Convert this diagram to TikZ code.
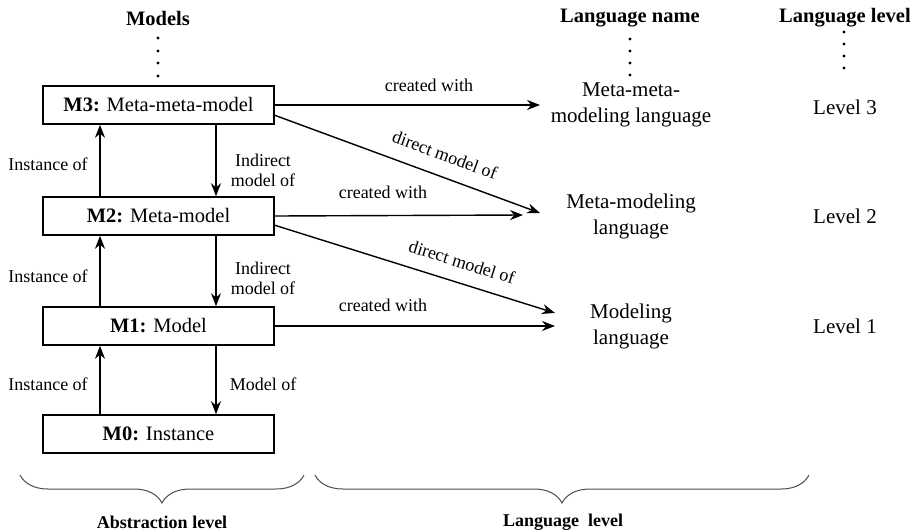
\documentclass[tikz,border=0pt]{standalone}
\usepackage{fontspec}
\setmainfont{LiberationSerif}[Extension=.ttf,UprightFont=*-Regular,BoldFont=*-Bold,ItalicFont=*-Italic,BoldItalicFont=*-BoldItalic]
\usetikzlibrary{arrows.meta,decorations.pathreplacing,calc}
\begin{document}
\begin{tikzpicture}[x=1pt,y=-1pt,
  box/.style={draw,line width=1.6pt,minimum width=231pt,minimum height=38pt,inner sep=0pt,font=\fontsize{20.5}{24}\selectfont},
  arr/.style={line width=1.4pt,-{Stealth[length=13pt,width=10pt]}},
  lbl/.style={font=\fontsize{18}{20}\selectfont,inner sep=2pt},
  lang/.style={font=\fontsize{21}{26}\selectfont,align=center,inner sep=0pt},
  head/.style={font=\bfseries\fontsize{20.5}{24}\selectfont,inner sep=0pt},
  foot/.style={font=\bfseries\fontsize{18}{20}\selectfont,inner sep=0pt},
  brc/.style={draw=black!70,line width=1pt,decorate,decoration={brace,mirror,amplitude=28pt}},
  dot/.style={circle,fill,inner sep=0pt,minimum size=3.2pt}]
\useasboundingbox (0,0) rectangle (919,531);

% headers
\node[head] (hmod) at (158,18) {Models};
\node[head] (hlang) at (630,18) {Language name};
\node[head] (hlev) at (845,18) {Language level};

% dots
\foreach \y [count=\i] in {38,51,63,76} {\node[dot] (da\i) at (158,\y) {};}
\foreach \y [count=\i] in {39,51,63,75} {\node[dot] (db\i) at (630,\y) {};}
\foreach \y [count=\i] in {32,44,56,68} {\node[dot] (dc\i) at (844,\y) {};}

% boxes
\node[box] (m3) at (158.5,105) {\textbf{M3:} Meta-meta-model};
\node[box] (m2) at (158.5,216) {\textbf{M2:} Meta-model};
\node[box] (m1) at (158.5,326) {\textbf{M1:} Model};
\node[box] (m0) at (158.5,434) {\textbf{M0:} Instance};

% language names
\node[lang] (l3) at (631,105) {Meta-meta-\\modeling language};
\node[lang] (l2) at (631,216) {Meta-modeling\\language};
\node[lang] (l1) at (631,326) {Modeling\\language};

% levels
\node[lang] (v3) at (845,107) {Level 3};
\node[lang] (v2) at (845,216) {Level 2};
\node[lang] (v1) at (845,326) {Level 1};

% vertical arrow positions
\coordinate (ux) at (100,0);
\coordinate (dx) at (216,0);

\draw[arr] (m2.north -| ux) -- (m3.south -| ux);
\draw[arr] (m1.north -| ux) -- (m2.south -| ux);
\draw[arr] (m0.north -| ux) -- (m1.south -| ux);
\draw[arr] (m3.south -| dx) -- (m2.north -| dx);
\draw[arr] (m2.south -| dx) -- (m1.north -| dx);
\draw[arr] (m1.south -| dx) -- (m0.north -| dx);

\node[lbl] (i3) at (48,164) {Instance of};
\node[lbl] (i2) at (48,276) {Instance of};
\node[lbl] (i1) at (48,384) {Instance of};
\node[lbl,align=center] (n3) at (263,170) {Indirect\\model of};
\node[lbl,align=center] (n2) at (263,278) {Indirect\\model of};
\node[lbl] (n1) at (263,384) {Model of};

% created with arrows
\coordinate (e3) at (540,105);
\coordinate (e2) at (523,215);
\coordinate (e1) at (555,326);
\coordinate (s3) at (274,115);
\coordinate (s2) at (274,225);
\coordinate (f3) at (540,213);
\coordinate (f2) at (555,313);

\draw[arr] (m3.east) -- (e3);
\draw[arr] (m2.east) -- (e2);
\draw[arr] (m1.east) -- (e1);
\node[lbl] (c3) at (429,85) {created with};
\node[lbl] (c2) at (383,192) {created with};
\node[lbl] (c1) at (383,305) {created with};

\draw[arr] (s3) -- (f3);
\draw[arr] (s2) -- (f2);
\node[lbl,rotate=-20.2] (d3) at (445,155) {direct model of};
\node[lbl,rotate=-17.4] (d2) at (462,262) {direct model of};

% braces
\coordinate (b1l) at (20,475);
\coordinate (b1r) at (304,475);
\coordinate (b2l) at (315,475);
\coordinate (b2r) at (809,475);
\draw[brc] (b1l) -- (b1r);
\draw[brc] (b2l) -- (b2r);
\node[foot] (fa) at (162,522) {Abstraction level};
\node[foot] (fl) at (563,522) {Language\ \ level};
\end{tikzpicture}
\end{document}
